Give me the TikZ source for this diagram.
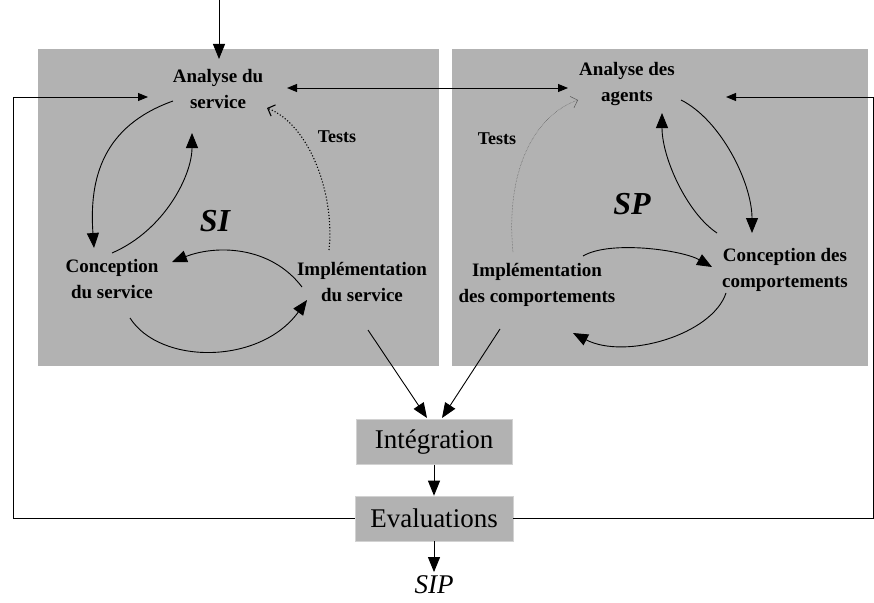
\documentclass[tikz,border=0pt]{standalone}
\usepackage{fontspec}
\setmainfont{Liberation Serif}
\usepackage{tikz}
\usetikzlibrary{arrows.meta,positioning}
\tikzstyle{panel} = [fill=gray!60]
\tikzstyle{stage} = [align=center, inner sep=2pt,
    font=\bfseries\fontsize{19}{26}\selectfont]
\tikzstyle{stepbox} = [rectangle, draw=gray!35, fill=gray!60,
    minimum width=156pt, minimum height=45pt, font=\fontsize{27}{32}\selectfont]
\tikzstyle{tag} = [font=\bfseries\itshape\fontsize{32}{38}\selectfont]
\tikzstyle{line} = [draw, line width=0.9pt, -{Triangle[length=15pt,width=12pt]}]
\tikzstyle{feed} = [draw, line width=1pt, -{Triangle[length=10pt,width=8pt]}]
\tikzstyle{feedboth} = [draw, line width=1pt,
    {Triangle[length=10pt,width=8pt]}-{Triangle[length=10pt,width=8pt]}]
\tikzstyle{test} = [draw, line width=1.1pt, dotted, -{Straight Barb[length=6pt,width=12pt]}]
\tikzstyle{testlight} = [draw, line width=0.5pt, densely dotted, gray!70!black,
    -{Straight Barb[length=6pt,width=12pt]}]

\begin{document}
\begin{tikzpicture}[x=1pt, y=-1pt, node distance=31pt]
    \useasboundingbox (0,0) rectangle (874,602);
    % Panels
    \fill [panel] (38,49) rectangle (439,366);
    \fill [panel] (452,49) rectangle (868,366);
    % Place nodes
    \node [stage] (asv) at (218,89) {Analyse du\\service};
    \node [stage] (csv) at (112,279) {Conception\\du service};
    \node [stage] (isv) at (362,282) {Implémentation\\du service};
    \node [stage] (aag) at (627,84) {Analyse des\\agents};
    \node [stage] (cco) at (785,270) {Conception des\\comportements};
    \node [stage] (ico) at (537,285) {Implémentation\\des comportements};
    \node [tag] (si) at (215,221) {SI};
    \node [tag] (sp) at (632,204) {SP};
    \node [stage, font=\bfseries\fontsize{18}{22}\selectfont] (tsi) at (337,137) {Tests};
    \node [stage, font=\bfseries\fontsize{18}{22}\selectfont] (tsp) at (497,139) {Tests};
    \node [stepbox] (integ) at (434,442) {Intégration};
    \node [stepbox, minimum width=158pt, below=of integ] (eval) {Evaluations};
    \node [below=31pt of eval, font=\itshape\fontsize{27}{32}\selectfont] (sip) {SIP};
    \coordinate (topin) at (219,0);
    \coordinate (fbl) at (13,97);
    \coordinate (fbr) at (873,97);
    % Draw edges, SI cycle
    \path [line] ([shift={(-45,12)}]asv.center) .. controls +(-70,25) and +(-5,-70) .. ([shift={(-18,-31)}]csv.center);
    \path [line] ([shift={(0,-26)}]csv.center) .. controls +(53,-23) and +(0,42) .. ([shift={(-26,44)}]asv.center);
    \path [line] ([shift={(-60,5)}]isv.center) .. controls +(-32,-42) and +(43,-17) .. ([shift={(60,-17)}]csv.center);
    \path [line] ([shift={(18,39)}]csv.center) .. controls +(30,47) and +(-47,65) .. ([shift={(-55,18)}]isv.center);
    \path [test] ([shift={(-33,-32)}]isv.center) .. controls +(6,-55) and +(43,17) .. ([shift={(49,19)}]asv.center);
    % Draw edges, SP cycle
    \path [line] ([shift={(54,16)}]aag.center) .. controls +(40,20) and +(0,-50) .. ([shift={(-33,-37)}]cco.center);
    \path [line] ([shift={(-68,-37)}]cco.center) .. controls +(-30,-20) and +(0,45) .. ([shift={(35,29)}]aag.center);
    \path [line] ([shift={(46,-29)}]ico.center) .. controls +(27,-16) and +(-30,-17) .. ([shift={(-73,-3)}]cco.center);
    \path [line] ([shift={(-59,23)}]cco.center) .. controls +(-14,42) and +(52,27) .. ([shift={(36,48)}]ico.center);
    \path [testlight] ([shift={(-24,-33)}]ico.center) .. controls +(-8,-82) and +(-43,15) .. ([shift={(-49,16)}]aag.center);
    % Integration and evaluation
    \path [line] ([shift={(6,48)}]isv.center) -- ([shift={(-7,-24)}]integ.center);
    \path [line] ([shift={(-37,44)}]ico.center) -- ([shift={(8,-24)}]integ.center);
    \path [line] (integ) -- (eval);
    \path [line] (eval) -- (sip);
    % Feedback lines
    \path [line] (topin) -- ([shift={(1,-30)}]asv.center);
    \path [feedboth] ([shift={(69,-1)}]asv.center) -- ([shift={(-59,4)}]aag.center);
    \path [feed] (eval.west) -| (fbl) -- ([shift={(-70,8)}]asv.center);
    \path [feed] (eval.east) -| (fbr) -- ([shift={(99,13)}]aag.center);
\end{tikzpicture}
\end{document}
